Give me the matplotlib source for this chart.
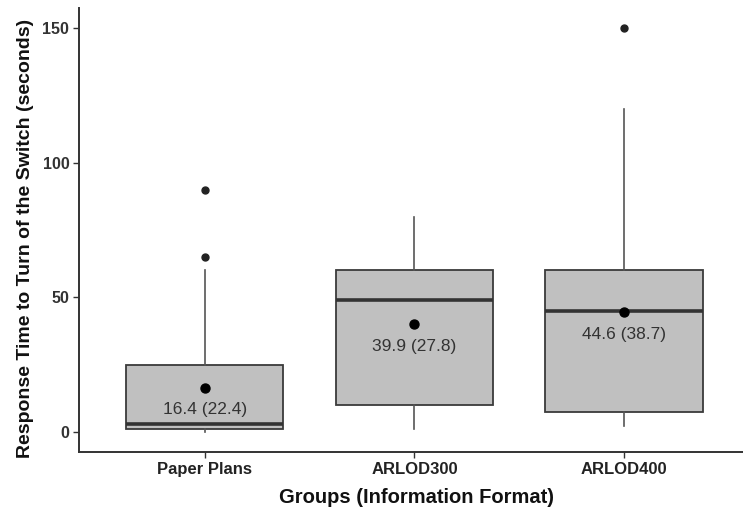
import matplotlib.pyplot as plt

# summary values
groups = ['Paper Plans', 'ARLOD300', 'ARLOD400']
q1 = [1, 10, 7.5]
medians = [3, 49, 45]
q3 = [25, 60, 60]
whisker_low = [0, 1, 2]
whisker_high = [60, 80, 120]
outliers = [[65, 90], [], [150]]
means = [16.4, 39.9, 44.6]
sds = [22.4, 27.8, 38.7]
y_ticks = [0, 50, 100, 150]

plt.rcParams['font.family'] = ['Liberation Sans', 'DejaVu Sans']

fig = plt.figure(figsize=(7.43, 5.14), dpi=100)
ax = fig.add_axes([79 / 743, 62 / 514, 664 / 743, 444 / 514])

positions = list(range(1, len(groups) + 1))
stats = []
for i, g in enumerate(groups):
    stats.append({'label': g, 'q1': q1[i], 'med': medians[i], 'q3': q3[i],
                  'whislo': whisker_low[i], 'whishi': whisker_high[i],
                  'fliers': outliers[i]})

ax.bxp(stats, positions=positions, widths=0.75, patch_artist=True,
       showcaps=False,
       boxprops=dict(facecolor='#c0c0c0', edgecolor='#3a3a3a', linewidth=1.3),
       medianprops=dict(color='#333333', linewidth=2.6),
       whiskerprops=dict(color='#555555', linewidth=1.2),
       flierprops=dict(marker='o', markerfacecolor='#222222',
                       markeredgecolor='#222222', markersize=5))

ax.scatter(positions, means, s=42, color='black', zorder=5)
for p, m, s in zip(positions, means, sds):
    ax.annotate(f'{m} ({s})', (p, m), xytext=(0, -16), textcoords='offset points',
                ha='center', va='center', fontsize=12.5, color='#333333', zorder=6)

ax.set_xlim(0.4, 3.567)
ax.set_ylim(-7.5, 157.5)
ax.set_yticks(y_ticks)
ax.set_xticks(positions)
ax.set_xticklabels(groups, fontsize=12, fontweight='bold', color='#222222')
ax.tick_params(axis='y', labelsize=11.5, labelcolor='#333333')
for lab in ax.get_yticklabels():
    lab.set_fontweight('bold')
ax.tick_params(length=4, width=1, color='#333333', pad=3)

ax.set_ylabel('Response Time to Turn of the Switch (seconds)', fontsize=14,
              fontweight='bold', color='#111111')
ax.set_xlabel('Groups (Information Format)', fontsize=14.5, fontweight='bold',
              color='#111111')
ax.yaxis.set_label_coords(-0.068, 0.48)
ax.xaxis.set_label_coords(0.508, -0.082)

for side in ['top', 'right']:
    ax.spines[side].set_visible(False)
for side in ['left', 'bottom']:
    ax.spines[side].set_color('#333333')
    ax.spines[side].set_linewidth(1.4)

plt.savefig('out.png', dpi=100)
